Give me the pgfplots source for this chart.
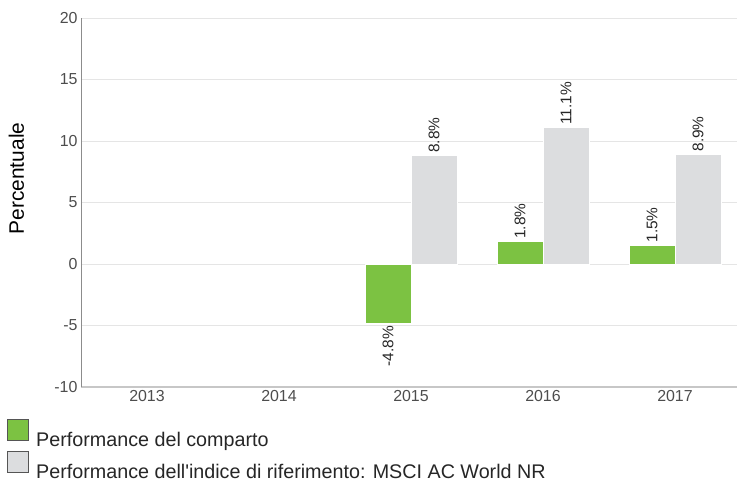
\documentclass[border=0pt]{standalone}
\usepackage{fontspec}
\setmainfont{Liberation Sans}
\usepackage{graphicx}
\usepackage{pgfplots}
\pgfplotsset{compat=1.18}
\definecolor{fundgreen}{HTML}{7CC242}
\definecolor{idxgray}{HTML}{DCDDDF}
\definecolor{tickgray}{HTML}{4D4D4D}
\definecolor{boxedge}{HTML}{555555}
\pgfplotsset{/pgf/number format/assume math mode=true}
\begin{document}
\begin{tikzpicture}
\begin{axis}[
  at={(81bp,-387bp)}, anchor=south west,
  scale only axis, width=660bp, height=369bp,
  xmin=-0.5, xmax=4.5, ymin=-10, ymax=20,
  xtick={0,1,2,3,4}, xticklabels={2013,2014,2015,2016,2017},
  ytick={-10,-5,0,5,10,15,20},
  ymajorgrids, grid style={draw=black!10, line width=0.8bp},
  axis x line*=bottom, axis y line*=left,
  x axis line style={draw=black!22, line width=2bp, -},
  y axis line style={draw=black!45, line width=0.8bp, -},
  major tick length=0pt,
  tick label style={font=\fontsize{16}{18}\selectfont, text=tickgray},
  ylabel={Percentuale},
  ylabel style={at={(axis description cs:-0.098,0.565)}, anchor=center, font=\fontsize{21}{24}\selectfont, text=black},
  nodes near coords={\rotatebox{90}{\pgfmathprintnumber[fixed,fixed zerofill,precision=1]{\pgfplotspointmeta}\%}},
  every node near coord/.append style={font=\fontsize{15.5}{17}\selectfont, text=black!85, anchor=south, inner sep=2.5bp},
  legend style={at={(rel axis cs:0,0)}, anchor=north west, xshift=-74bp, yshift=-32bp,
    draw=none, fill=none, font=\fontsize{19.8}{22}\selectfont, text=black!85, row sep=1bp, inner sep=0pt,
    nodes={inner ysep=0pt, text height=15bp, text depth=4bp},
    /tikz/every odd column/.append style={column sep=5bp}},
  legend cell align=left,
  legend image code/.code={\draw[#1, draw=boxedge, line width=1bp] (0bp,0bp) rectangle (21bp,21bp);},
]
\addplot[ybar, bar width=46bp, bar shift=-23bp, fill=fundgreen, draw=white, line width=1bp,
  every node near coord/.append style={xshift=-23bp}]
  coordinates {(3,1.8) (4,1.5)};
\addlegendentry{Performance del comparto}
\addplot[ybar, bar width=46bp, bar shift=23bp, fill=idxgray, draw=white, line width=1bp,
  every node near coord/.append style={xshift=23bp}]
  coordinates {(2,8.8) (3,11.1) (4,8.9)};
\addlegendentry{Performance dell\textquotesingle indice di riferimento: MSCI AC World NR}
\addplot[ybar, bar width=46bp, bar shift=-23bp, fill=fundgreen, draw=white, line width=1bp, forget plot,
  every node near coord/.append style={anchor=north, xshift=-23bp}]
  coordinates {(2,-4.8)};
\end{axis}
\pgfresetboundingbox
\path[use as bounding box] (0bp,0bp) rectangle (737bp,-483bp);
\end{tikzpicture}
\end{document}
